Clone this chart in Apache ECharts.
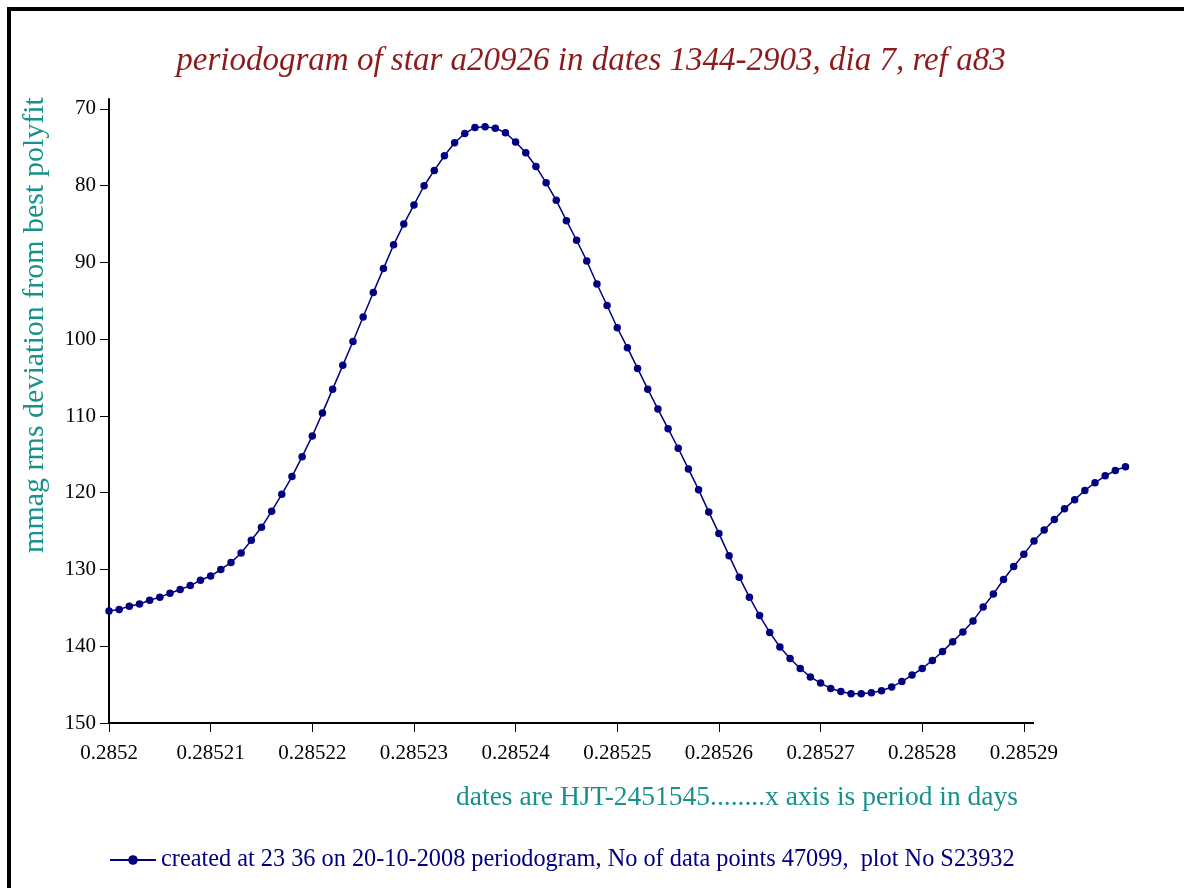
<!DOCTYPE html>
<html>
<head>
<meta charset="utf-8">
<script src="https://cdn.jsdelivr.net/npm/echarts@6/dist/echarts.min.js"></script>
<style>
  html, body { margin: 0; padding: 0; background: #fff; }
  #chart { width: 1184px; height: 888px; }
  #frame { position: absolute; left: 7px; top: 7px; width: 1200px; height: 877px;
           border-left: 4px solid #000; border-top: 4px solid #000; border-bottom: 2px solid #222;
           pointer-events: none; }
</style>
</head>
<body>
<div id="chart"></div>
<div id="frame"></div>
<script>
// ---- data ----
const periods = [
  0.285200, 0.285201, 0.285202, 0.285203, 0.285204, 0.285205, 0.285206, 0.285207, 0.285208, 0.285209,
  0.285210, 0.285211, 0.285212, 0.285213, 0.285214, 0.285215, 0.285216, 0.285217, 0.285218, 0.285219,
  0.285220, 0.285221, 0.285222, 0.285223, 0.285224, 0.285225, 0.285226, 0.285227, 0.285228, 0.285229,
  0.285230, 0.285231, 0.285232, 0.285233, 0.285234, 0.285235, 0.285236, 0.285237, 0.285238, 0.285239,
  0.285240, 0.285241, 0.285242, 0.285243, 0.285244, 0.285245, 0.285246, 0.285247, 0.285248, 0.285249,
  0.285250, 0.285251, 0.285252, 0.285253, 0.285254, 0.285255, 0.285256, 0.285257, 0.285258, 0.285259,
  0.285260, 0.285261, 0.285262, 0.285263, 0.285264, 0.285265, 0.285266, 0.285267, 0.285268, 0.285269,
  0.285270, 0.285271, 0.285272, 0.285273, 0.285274, 0.285275, 0.285276, 0.285277, 0.285278, 0.285279,
  0.285280, 0.285281, 0.285282, 0.285283, 0.285284, 0.285285, 0.285286, 0.285287, 0.285288, 0.285289,
  0.285290, 0.285291, 0.285292, 0.285293, 0.285294, 0.285295, 0.285296, 0.285297, 0.285298, 0.285299,
  0.285300
];
const rmsDeviation = [
  135.4, 135.2, 134.8, 134.5, 134.0, 133.6, 133.1, 132.6, 132.1, 131.4,
  130.85, 130.0, 129.1, 127.85, 126.2, 124.5, 122.4, 120.2, 117.9, 115.3,
  112.6, 109.6, 106.5, 103.4, 100.3, 97.1, 93.9, 90.8, 87.7, 85.0,
  82.5, 80.0, 78.0, 76.1, 74.4, 73.2, 72.4, 72.3, 72.5, 73.1,
  74.3, 75.7, 77.5, 79.6, 81.9, 84.55, 87.1, 89.8, 92.8, 95.6,
  98.5, 101.1, 103.8, 106.5, 109.1, 111.65, 114.2, 116.9, 119.6, 122.5,
  125.3, 128.2, 131.0, 133.6, 136.0, 138.2, 140.1, 141.6, 142.9, 144.0,
  144.8, 145.5, 145.9, 146.2, 146.2, 146.05, 145.8, 145.3, 144.6, 143.75,
  142.9, 141.85, 140.7, 139.4, 138.15, 136.7, 134.9, 133.2, 131.3, 129.6,
  128.0, 126.3, 124.85, 123.5, 122.1, 120.9, 119.7, 118.7, 117.8, 117.1,
  116.6
];
const xTickLabels = ['0.2852', '0.28521', '0.28522', '0.28523', '0.28524', '0.28525', '0.28526', '0.28527', '0.28528', '0.28529'];
const yTickLabels = ['70', '80', '90', '100', '110', '120', '130', '140', '150'];
const xTicks = xTickLabels.map(Number);
const yTicks = yTickLabels.map(Number);
const xAxisLineEnd = 0.285291;   // drawn x axis stops here; data run on to 0.2853

const titleText = 'periodogram of star a20926 in dates 1344-2903, dia 7, ref a83';
const yAxisTitle = 'mmag rms deviation from best polyfit';
const xAxisTitle = 'dates are HJT-2451545........x axis is period in days';
const seriesName = 'created at 23 36 on 20-10-2008 periodogram, No of data points 47099,  plot No S23932';

const serif = '"Liberation Serif", "DejaVu Serif", serif';
const teal = '#17928a';
const navy = '#000080';

const chart = echarts.init(document.getElementById('chart'));
chart.setOption({
  animation: false,
  backgroundColor: '#fff',
  title: {
    text: titleText,
    left: 586, top: 40, textAlign: 'center',
    textStyle: { fontFamily: serif, fontStyle: 'italic', fontWeight: 'normal', fontSize: 33, color: '#8e1b1b' }
  },
  legend: {
    left: 104, top: 843,
    itemWidth: 46, itemHeight: 12, itemGap: 6,
    textStyle: { fontFamily: serif, fontSize: 24.3, color: navy },
    data: [seriesName]
  },
  graphic: [
    { type: 'text', x: 35, y: 325, rotation: Math.PI / 2,
      style: { text: yAxisTitle, font: '30px ' + serif, fill: teal, align: 'center', verticalAlign: 'middle' } },
    { type: 'text', x: 737, y: 798,
      style: { text: xAxisTitle, font: '27.5px ' + serif, fill: teal, align: 'center', verticalAlign: 'middle' } }
  ],
  grid: { left: 109, top: 99, width: 1016.5, height: 624, containLabel: false },
  xAxis: {
    type: 'value', min: 0.2852, max: 0.2853,
    axisLine: { show: false },
    axisTick: { show: true, customValues: xTicks, length: 9, lineStyle: { color: '#000', width: 1 } },
    axisLabel: { customValues: xTicks, margin: 20, color: '#000', fontFamily: serif, fontSize: 21,
      formatter: v => xTickLabels[xTicks.findIndex(t => Math.abs(t - v) < 1e-9)] },
    splitLine: { show: false }
  },
  yAxis: {
    type: 'value', inverse: true, min: 68.7, max: 150,
    axisLine: { show: true, onZero: false, lineStyle: { color: '#000', width: 2 } },
    axisTick: { show: true, customValues: yTicks, length: 9, lineStyle: { color: '#000', width: 1 } },
    axisLabel: { customValues: yTicks, margin: 13, color: '#000', fontFamily: serif, fontSize: 21,
      formatter: v => yTickLabels[yTicks.findIndex(t => Math.abs(t - v) < 1e-9)] },
    splitLine: { show: false }
  },
  series: [{
    name: seriesName,
    type: 'line',
    data: periods.map((p, i) => [p, rmsDeviation[i]]),
    symbol: 'circle', symbolSize: 7.5, showSymbol: true,
    lineStyle: { color: navy, width: 1.5 },
    itemStyle: { color: navy },
    emphasis: { disabled: true },
    markLine: {
      silent: true, symbol: ['none', 'none'], label: { show: false },
      lineStyle: { type: 'solid', color: '#000', width: 2 },
      emphasis: { disabled: true },
      data: [[{ coord: [xTicks[0], yTicks[yTicks.length - 1]] }, { coord: [xAxisLineEnd, yTicks[yTicks.length - 1]] }]]
    }
  }]
});
</script>
</body>
</html>
